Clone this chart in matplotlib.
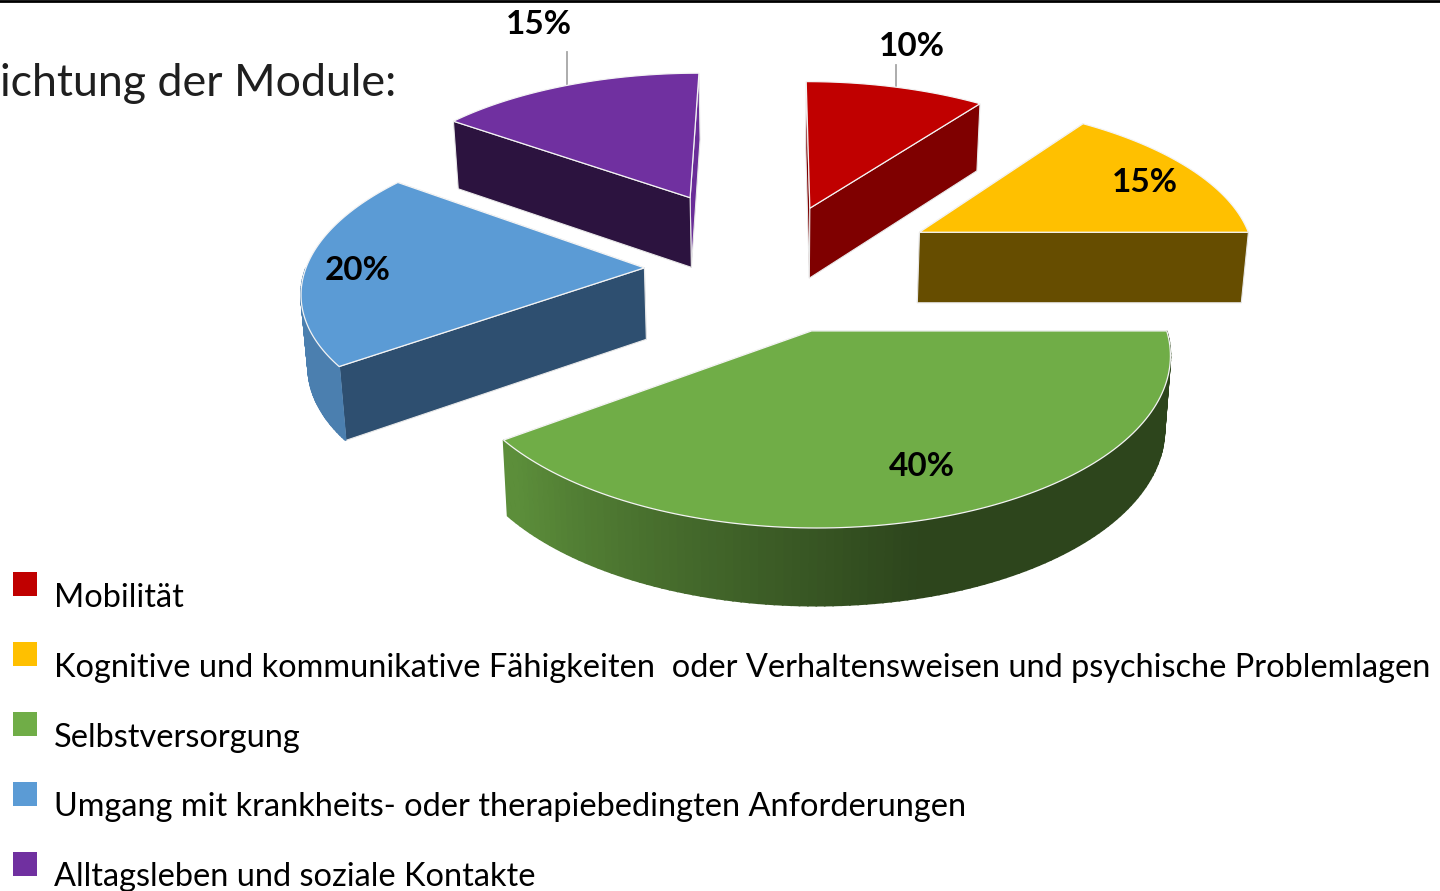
import numpy as np
import matplotlib
matplotlib.use('Agg')
import matplotlib.pyplot as plt
from matplotlib.patches import Polygon, Rectangle

# data
categories = ['Mobilität',
              'Kognitive und kommunikative Fähigkeiten  oder Verhaltensweisen und psychische Problemlagen',
              'Selbstversorgung',
              'Umgang mit krankheits- oder therapiebedingten Anforderungen',
              'Alltagsleben und soziale Kontakte']
values = [10, 15, 40, 20, 15]
title_text = 'ichtung der Module:'

# colours
top_colors = ['#C00000', '#FFC000', '#70AD47', '#5B9BD5', '#7030A0']
cut_colors = ['#7F0000', '#664D00', '#2F4A1C', '#2E4F70', '#2C133F']
far_colors = ['#7F0000', '#664D00', '#2F4A1C', '#2E4F70', '#6A2D98']

# layout, pixel units
explode = [150, 184, 144, 129, 190]
radius = 355
center = (-8, 135)
label_pos = [(912, 47), (1145, 182), (922, 466), (358, 270), (539, 25)]
leader_top = [65, None, None, None, 52]

plt.rcParams['font.family'] = ['Lato', 'DejaVu Sans']

fig = plt.figure(figsize=(14.4, 8.91), dpi=100)
ax = fig.add_axes([0, 0, 1, 1])
ax.set_xlim(0, 1440)
ax.set_ylim(891, 0)
ax.axis('off')


# ground plane -> screen, with perspective
def scale(Y):
    return 1 / (1 + 0.000363 * Y)


def project(X, Y):
    s = scale(Y)
    return np.column_stack([775 + X * s, -1000 + 1330 * s])


def drop(Y):
    return 73 * scale(Y) ** 0.45


def lower(points, Y):
    # vertical edges lean towards the middle of the picture
    return points + np.column_stack([(775 - points[:, 0]) * 0.015, drop(Y)])


def wall_shade(theta):
    return np.interp(theta, [90, 165, 200, 230, 360], [0.40, 0.40, 0.62, 0.82, 0.82])


def mix(color, f):
    return np.array(matplotlib.colors.to_rgb(color)) * f


edges = 360 * np.cumsum([0] + values) / sum(values)

for i in [4, 0, 1, 3, 2]:
    a0, a1 = edges[i], edges[i + 1]
    mid = np.radians((a0 + a1) / 2)
    ax0 = center[0] + explode[i] * np.sin(mid)
    ay0 = center[1] + explode[i] * np.cos(mid)
    theta = np.linspace(a0, a1, 121)
    X = ax0 + radius * np.sin(np.radians(theta))
    Y = ay0 + radius * np.cos(np.radians(theta))
    rim = project(X, Y)
    apex = project(np.array([ax0]), np.array([ay0]))
    apex_low = lower(apex, np.array([ay0]))[0]
    apex = apex[0]
    rim_low = lower(rim, Y)

    # cut faces, the far one first
    faces = [(rim[0], rim_low[0]), (rim[-1], rim_low[-1])]
    faces.sort(key=lambda f: f[0][1])
    for n, (r, r_low) in enumerate(faces):
        ax.add_patch(Polygon([apex, r, r_low, apex_low], closed=True,
                             facecolor=far_colors[i] if n == 0 else cut_colors[i],
                             edgecolor='#E8E8E8', lw=0.8, zorder=2 + i * 0.01))

    # outer wall, front part only
    for j in range(len(theta) - 1):
        if np.cos(np.radians((theta[j] + theta[j + 1]) / 2)) < 0:
            c = mix(top_colors[i], wall_shade(theta[j]))
            ax.add_patch(Polygon([rim[j], rim[j + 1], rim_low[j + 1], rim_low[j]], closed=True,
                                 facecolor=c, edgecolor=c, lw=1.2, zorder=3))

    ax.add_patch(Polygon(np.vstack([apex, rim]), closed=True, facecolor=top_colors[i],
                         edgecolor='#F4F4F4', lw=0.9, zorder=4))

    if leader_top[i] is not None:
        p = project(np.array([ax0 + radius * np.sin(mid)]), np.array([ay0 + radius * np.cos(mid)]))[0]
        ax.plot([p[0], p[0]], [leader_top[i], p[1]], color='#A6A6A6', lw=1.3, zorder=3.5)

    ax.text(label_pos[i][0], label_pos[i][1], f'{values[i]}%', fontsize=24, fontweight='bold',
            ha='center', va='center', color='black', zorder=5)

# top rule and clipped heading
ax.plot([0, 1440], [0.5, 0.5], color='black', lw=2, zorder=6)
ax.text(0, 96, title_text, fontsize=32.2, color='#1F1F1F', ha='left', va='baseline')

# legend
for i, name in enumerate(categories):
    ax.add_patch(Rectangle((13, 572 + 70 * i), 24, 24, facecolor=top_colors[i], edgecolor='none'))
    ax.text(54, 607 + 69.8 * i, name, fontsize=23.4, color='black', ha='left', va='baseline')

fig.savefig('out.png', dpi=100)
